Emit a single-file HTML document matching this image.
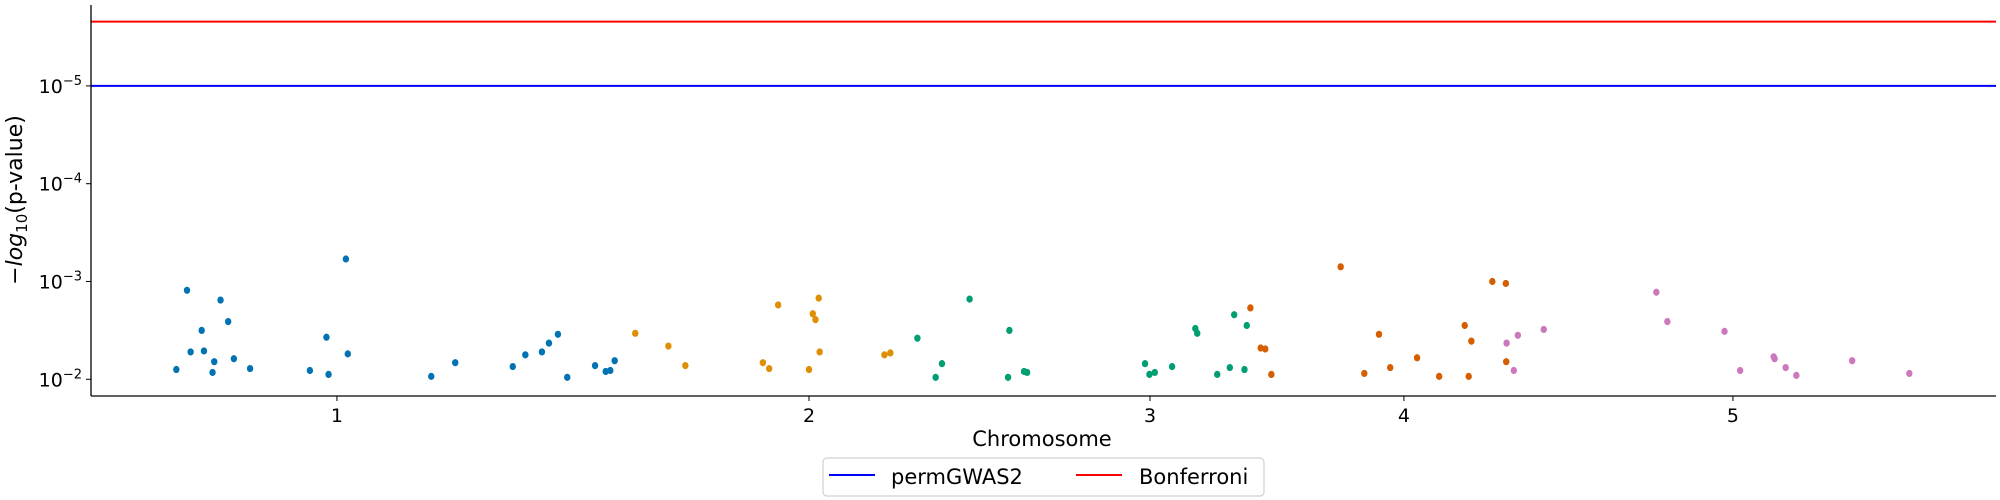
<!DOCTYPE html>
<html><head><meta charset="utf-8"><style>
html,body{margin:0;padding:0;background:#fff;}
svg{display:block;font-family:"DejaVu Sans","Liberation Sans",sans-serif;}
</style></head><body>
<svg id="chart" width="2000" height="500" viewBox="0 0 2000 500" xmlns="http://www.w3.org/2000/svg">
<g id="plot"></g>
</svg>
<script>
const chromTicks = [1, 2, 3, 4, 5];
const chromTickPos = [12.91, 37.69, 55.59, 68.92, 86.19];
const yTickExp = [-5, -4, -3, -2];
const thresholdPerm = 1e-5;
const thresholdBonf = 2.2e-6;
const colors = ["#0173b2", "#de8f05", "#029e73", "#d55e00", "#cc78bc"];
const chr1Pos = [4.48,5.04,5.23,5.81,5.93,6.38,6.47,6.80,7.20,7.50,8.35,11.49,12.36,12.47,13.38,13.48,17.86,19.12,22.14,22.80,23.67,24.04,24.51,25.00,26.46,27.02,27.26,27.49];
const chr1LogP = [-2.10,-2.91,-2.28,-2.50,-2.29,-2.07,-2.18,-2.81,-2.59,-2.21,-2.11,-2.09,-2.43,-2.05,-3.23,-2.26,-2.03,-2.17,-2.13,-2.25,-2.28,-2.37,-2.46,-2.02,-2.14,-2.08,-2.09,-2.19];
const chr2Pos = [28.57,30.31,31.20,35.27,35.60,36.07,37.69,37.89,38.03,38.20,38.25,41.65,41.96];
const chr2LogP = [-2.47,-2.34,-2.14,-2.17,-2.11,-2.76,-2.10,-2.67,-2.61,-2.83,-2.28,-2.25,-2.27];
const chr3Pos = [43.38,44.34,44.67,46.12,48.14,48.21,48.98,49.14,55.33,55.56,55.84,56.75,57.97,58.07,59.12,59.78,60.01,60.55,60.67];
const chr3LogP = [-2.42,-2.02,-2.16,-2.82,-2.02,-2.50,-2.08,-2.07,-2.16,-2.05,-2.07,-2.13,-2.52,-2.47,-2.05,-2.12,-2.66,-2.10,-2.55];
const chr4Pos = [60.86,61.40,61.64,61.96,65.60,66.84,67.61,68.20,69.61,70.77,72.11,72.32,72.46,73.56,74.27,74.29];
const chr4LogP = [-2.73,-2.32,-2.31,-2.05,-3.15,-2.06,-2.46,-2.12,-2.22,-2.03,-2.55,-2.03,-2.39,-3.00,-2.98,-2.18];
const chr5Pos = [74.31,74.69,74.90,76.26,82.17,82.75,85.75,86.57,88.33,88.38,88.96,89.52,92.45,95.45];
const chr5LogP = [-2.37,-2.09,-2.45,-2.51,-2.89,-2.59,-2.49,-2.09,-2.23,-2.21,-2.12,-2.04,-2.19,-2.06];

const L=91, R=1996, T=5, B=396;
const xMax = 100;
function xs(v){ return L + v/xMax*(R-L); }
function ys(e){ return 379.3 - (-2 - e)*97.8; }

const NS="http://www.w3.org/2000/svg";
const g=document.getElementById('plot');
function mk(tag,attrs,parent){const el=document.createElementNS(NS,tag);for(const k in attrs)el.setAttribute(k,attrs[k]);(parent||g).appendChild(el);return el;}

let ln=mk('line',{x1:L,x2:R,y1:ys(Math.log10(thresholdBonf)),y2:ys(Math.log10(thresholdBonf)),stroke:'#ff0000','stroke-width':2});


ln=mk('line',{x1:L,x2:R,y1:ys(Math.log10(thresholdPerm)),y2:ys(Math.log10(thresholdPerm)),stroke:'#0000ff','stroke-width':2});



const series=[[chr1Pos,chr1LogP],[chr2Pos,chr2LogP],[chr3Pos,chr3LogP],[chr4Pos,chr4LogP],[chr5Pos,chr5LogP]];
series.forEach((s,i)=>{
  s[0].forEach((p,j)=>{
    const c=mk('ellipse',{cx:xs(p),cy:ys(s[1][j]),rx:3.2,ry:3.6,fill:colors[i]});
    
    
  });
});

let ax=mk('line',{x1:L,x2:L,y1:T,y2:B,stroke:'#000','stroke-width':1.3});


ax=mk('line',{x1:L,x2:R,y1:B,y2:B,stroke:'#000','stroke-width':1.3});



yTickExp.forEach(e=>{
  const y=ys(e);
  const t=mk('line',{x1:L-5,x2:L,y1:y,y2:y,stroke:'#000','stroke-width':1});
  
  
  const tx=mk('text',{x:L-9,y:y+7,'text-anchor':'end','font-size':19,fill:'#000'});
  
  
  tx.appendChild(document.createTextNode('10'));
  const sup=document.createElementNS(NS,'tspan');
  sup.setAttribute('dy','-8');sup.setAttribute('font-size','13');
  sup.textContent='\u2212'+Math.abs(e);
  tx.appendChild(sup);
});
chromTicks.forEach((c,i)=>{
  const x=xs(chromTickPos[i]);
  const t=mk('line',{x1:x,x2:x,y1:B,y2:B+5,stroke:'#000','stroke-width':1});
  
  
  const tx=mk('text',{x:x,y:422,'text-anchor':'middle','font-size':19,fill:'#000'});
  
  
  tx.textContent=c;
});

let tt=mk('text',{x:1042,y:446,'text-anchor':'middle','font-size':21,fill:'#000'});


tt.textContent='Chromosome';
tt=mk('text',{x:0,y:0,'text-anchor':'middle','font-size':22,fill:'#000',transform:'translate(22,200) rotate(-90)'});


tt.appendChild(document.createTextNode('\u2212'));
let ts=document.createElementNS(NS,'tspan');ts.setAttribute('font-style','italic');ts.textContent='log';tt.appendChild(ts);
ts=document.createElementNS(NS,'tspan');ts.setAttribute('font-size','15');ts.setAttribute('dy','5');ts.textContent='10';tt.appendChild(ts);
ts=document.createElementNS(NS,'tspan');ts.setAttribute('dy','-5');ts.textContent='(p-value)';tt.appendChild(ts);

const lg=mk('g',{});


mk('rect',{x:823,y:458,width:441,height:38,rx:4,fill:'#fff',stroke:'#d0d0d0','stroke-width':1.2},lg);
let le=mk('line',{x1:829,x2:875,y1:475,y2:475,stroke:'#0000ff','stroke-width':2},lg);


let lt=mk('text',{x:891,y:484,'font-size':21,fill:'#000'},lg);


lt.textContent='permGWAS2';
le=mk('line',{x1:1076,x2:1122,y1:475,y2:475,stroke:'#ff0000','stroke-width':2},lg);


lt=mk('text',{x:1139,y:484,'font-size':21,fill:'#000'},lg);


lt.textContent='Bonferroni';
</script>
</body></html>
